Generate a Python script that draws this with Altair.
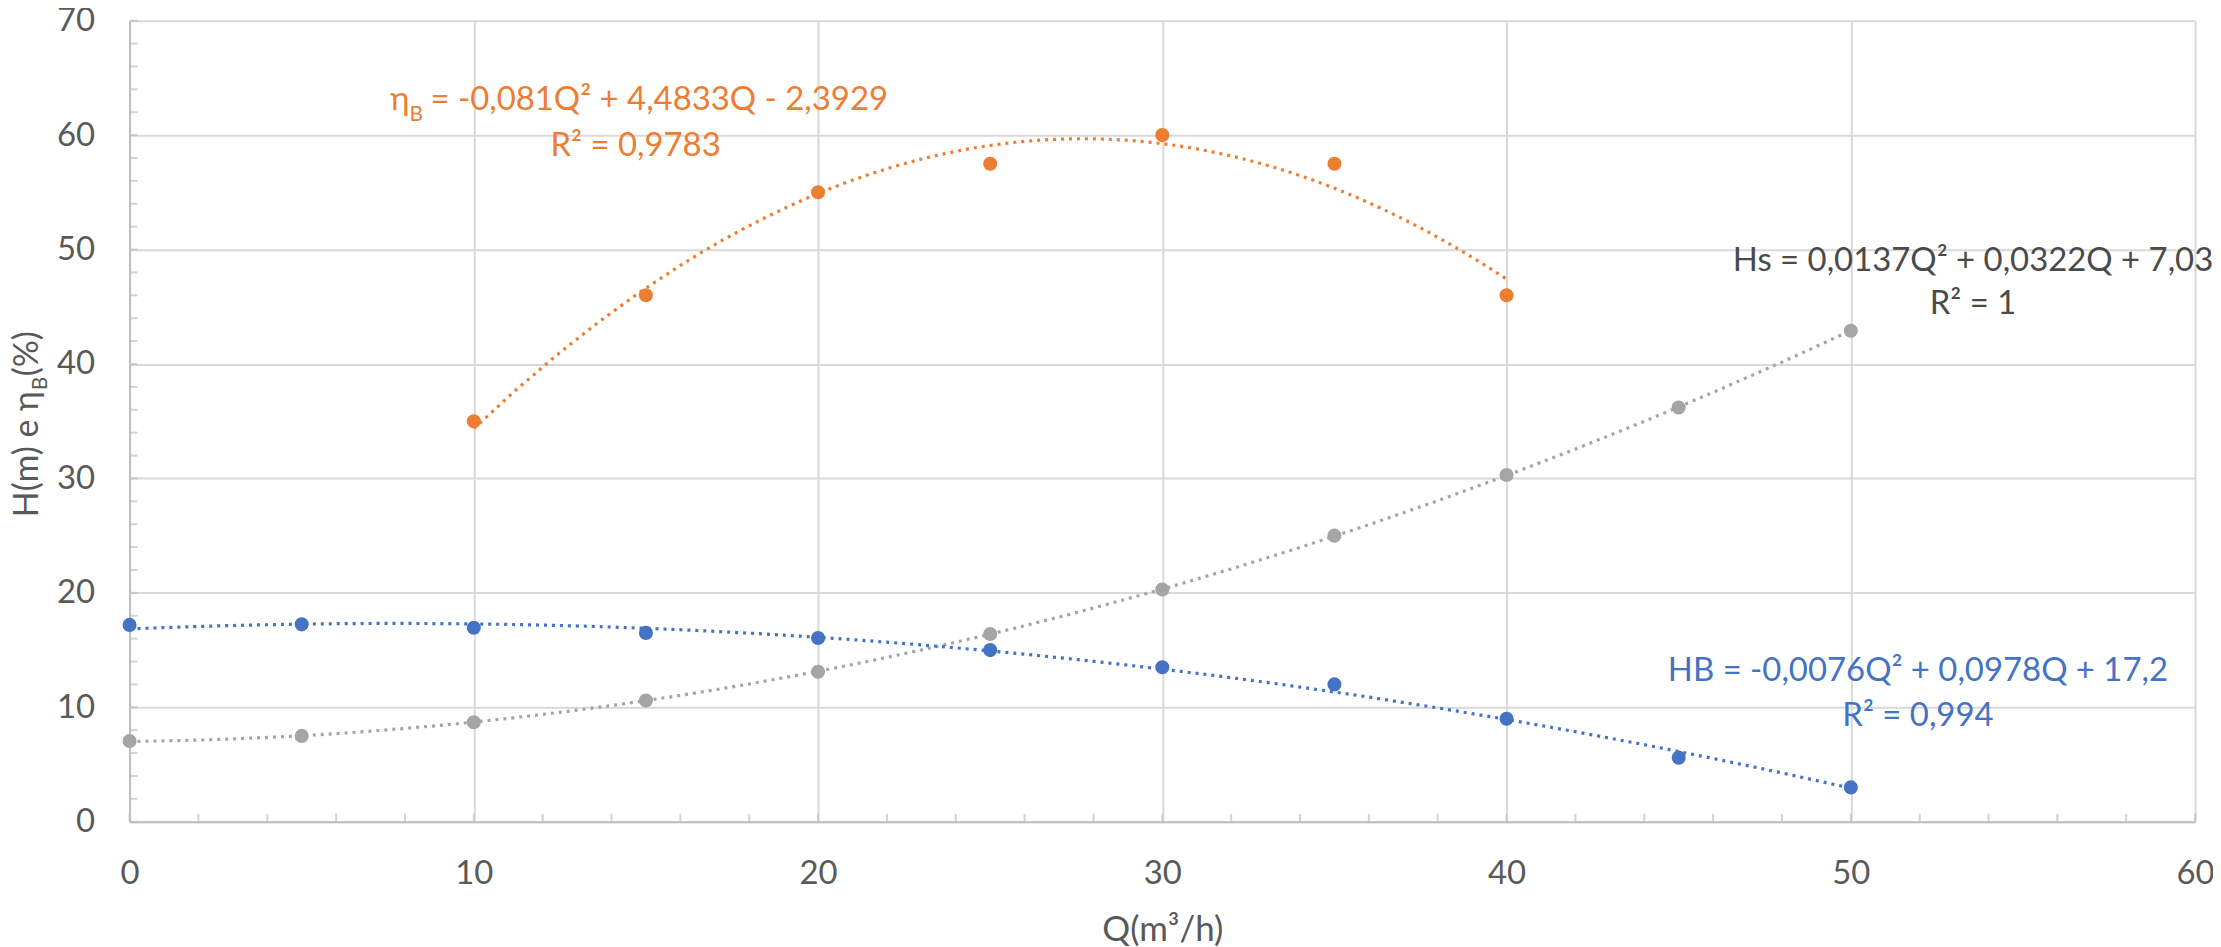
import altair as alt
import pandas as pd

# ---------------- data ----------------
Q_VALUES = [0, 5, 10, 15, 20, 25, 30, 35, 40, 45, 50]
HB_VALUES = [17.2, 17.25, 16.95, 16.5, 16.05, 15.0, 13.5, 12.0, 9.0, 5.6, 3.0]
HS_VALUES = [7.05, 7.5, 8.7, 10.6, 13.1, 16.4, 20.3, 25.0, 30.3, 36.2, 42.9]
Q_ETA = [10, 15, 20, 25, 30, 35, 40]
ETA_VALUES = [35.0, 46.0, 55.0, 57.5, 60.0, 57.5, 46.0]

X_TICKS = [0, 10, 20, 30, 40, 50, 60]
Y_TICKS = [0, 10, 20, 30, 40, 50, 60, 70]
X_MINOR = [0, 2, 4, 6, 8, 10, 12, 14, 16, 18, 20, 22, 24, 26, 28, 30,
           32, 34, 36, 38, 40, 42, 44, 46, 48, 50, 52, 54, 56, 58, 60]
Y_MINOR = [0, 2, 4, 6, 8, 10, 12, 14, 16, 18, 20, 22, 24, 26, 28, 30, 32, 34,
           36, 38, 40, 42, 44, 46, 48, 50, 52, 54, 56, 58, 60, 62, 64, 66, 68, 70]

X_TITLE = "Q(m³/h)"
# y-axis title pieces (the "B" is a subscript)
Y_TITLE_MAIN = "H(m) e η"
Y_TITLE_SUB = "B"
Y_TITLE_END = "(%)"

ETA_SYMBOL = "η"
ETA_SUB = "B"
ETA_EQ = "= -0,081Q² + 4,4833Q - 2,3929"
ETA_R2 = "R² = 0,9783"
HS_EQ = "Hs = 0,0137Q² + 0,0322Q + 7,03"
HS_R2 = "R² = 1"
HB_EQ = "HB = -0,0076Q² + 0,0978Q + 17,2"
HB_R2 = "R² = 0,994"

# label anchor positions (in chart units)
ETA_EQ_POS = (8.13, 62.16)
ETA_EQ_MAIN_POS = (8.74, 62.16)
ETA_R2_POS = (14.70, 58.16)
HS_EQ_POS = (53.55, 48.15)
HS_R2_POS = (53.55, 44.4)
HB_EQ_POS = (51.95, 12.28)
HB_R2_POS = (51.95, 8.36)

# ---------------- styling ----------------
FONT = "Lato"
FS = 33
FS_SUB = 21
FS_T = 34
TXT = "#595959"
BLUE = "#4472C4"
ORANGE = "#ED7D31"
GRAY = "#A5A5A5"
GRID = "#D9D9D9"
AXIS = "#BFBFBF"

W, H = 2073, 804

xs = alt.Scale(domain=[0, 60], nice=False, zero=False)
ys = alt.Scale(domain=[0, 70], nice=False, zero=False)

xa = alt.Axis(values=X_TICKS, grid=True, gridColor=GRID, gridWidth=2,
              ticks=False, tickSize=0, domainColor=AXIS, domainWidth=2,
              labelFont=FONT, labelFontSize=FS, labelColor=TXT,
              labelPadding=62, labelBaseline="alphabetic", labelFlush=False,
              labelOverlap=False, format="d",
              title=X_TITLE, titleFont=FONT, titleFontSize=35,
              titleColor=TXT, titleFontWeight="normal",
              titleY=119, titleBaseline="alphabetic")
ya = alt.Axis(values=Y_TICKS, grid=True, gridColor=GRID, gridWidth=2,
              ticks=False, tickSize=0, domainColor=AXIS, domainWidth=2,
              labelFont=FONT, labelFontSize=FS, labelColor=TXT,
              labelPadding=35, labelBaseline="middle", labelFlush=False,
              labelOverlap=False, format="d", title=None)


def X(field="Q"):
    return alt.X(f"{field}:Q", scale=xs, axis=xa)


def Y(field="v"):
    return alt.Y(f"{field}:Q", scale=ys, axis=ya)


df_hb = pd.DataFrame({"Q": Q_VALUES, "v": HB_VALUES})
df_hs = pd.DataFrame({"Q": Q_VALUES, "v": HS_VALUES})
df_eta = pd.DataFrame({"Q": Q_ETA, "v": ETA_VALUES})

layers = []

# minor / major ticks pointing inward
layers.append(
    alt.Chart(pd.DataFrame({"Q": X_MINOR}))
    .mark_tick(orient="vertical", size=8, thickness=2, color=AXIS, yOffset=-4)
    .encode(x=X(), y=alt.Y(datum=0, scale=ys, axis=ya))
)
layers.append(
    alt.Chart(pd.DataFrame({"v": Y_MINOR}))
    .mark_tick(orient="horizontal", size=8, thickness=2, color=AXIS, xOffset=4)
    .encode(y=Y(), x=alt.X(datum=0, scale=xs, axis=xa))
)


def trend(df, color):
    return (
        alt.Chart(df)
        .transform_regression("Q", "v", method="poly", order=2)
        .mark_line(color=color, strokeWidth=3.2, strokeDash=[3, 5])
        .encode(x=X(), y=Y())
    )


def pts(df, color):
    return (
        alt.Chart(df)
        .mark_circle(color=color, size=200, opacity=1)
        .encode(x=X(), y=Y())
    )


layers += [trend(df_hs, GRAY), trend(df_hb, BLUE), trend(df_eta, ORANGE)]
layers += [pts(df_hs, GRAY), pts(df_hb, BLUE), pts(df_eta, ORANGE)]


def label(text, pos, color, size=FS, align="center", dy=0):
    df = pd.DataFrame({"t": [text], "Q": [pos[0]], "v": [pos[1]]})
    return (
        alt.Chart(df)
        .mark_text(font=FONT, fontSize=size, color=color, align=align,
                   baseline="alphabetic", dy=dy)
        .encode(x=X(), y=Y(), text="t:N")
    )


layers += [
    label(ETA_SYMBOL, ETA_EQ_POS, ORANGE, align="right"),
    label(ETA_SUB, ETA_EQ_POS, ORANGE, size=FS_SUB, align="left", dy=11),
    label(ETA_EQ, ETA_EQ_MAIN_POS, ORANGE, align="left"),
    label(ETA_R2, ETA_R2_POS, ORANGE),
    label(HS_EQ, HS_EQ_POS, "#4A4A4A"),
    label(HS_R2, HS_R2_POS, "#4A4A4A"),
    label(HB_EQ, HB_EQ_POS, BLUE),
    label(HB_R2, HB_R2_POS, BLUE),
]


def ytitle(text, x, y, size, align):
    return (
        alt.Chart(pd.DataFrame({"t": [text]}))
        .mark_text(font=FONT, fontSize=size, color=TXT, align=align,
                   baseline="alphabetic", angle=270)
        .encode(x=alt.value(x), y=alt.value(y), text="t:N")
    )


# rotated title pieces chained bottom-to-top (plot pixels)
layers += [
    ytitle(Y_TITLE_MAIN, -92, 372, FS_T, "right"),
    ytitle(Y_TITLE_SUB, -83, 371, FS_SUB, "left"),
    ytitle(Y_TITLE_END, -92, 357, FS_T, "left"),
]

chart = (
    alt.layer(*layers)
    .properties(width=W, height=H,
                padding={"left": 122, "top": 11, "right": 18, "bottom": 124},
                autosize=alt.AutoSizeParams(type="none"),
                background="white")
    .configure_view(stroke=None)
)

chart.save("out.html", embed_options={"renderer": "svg", "actions": False})
